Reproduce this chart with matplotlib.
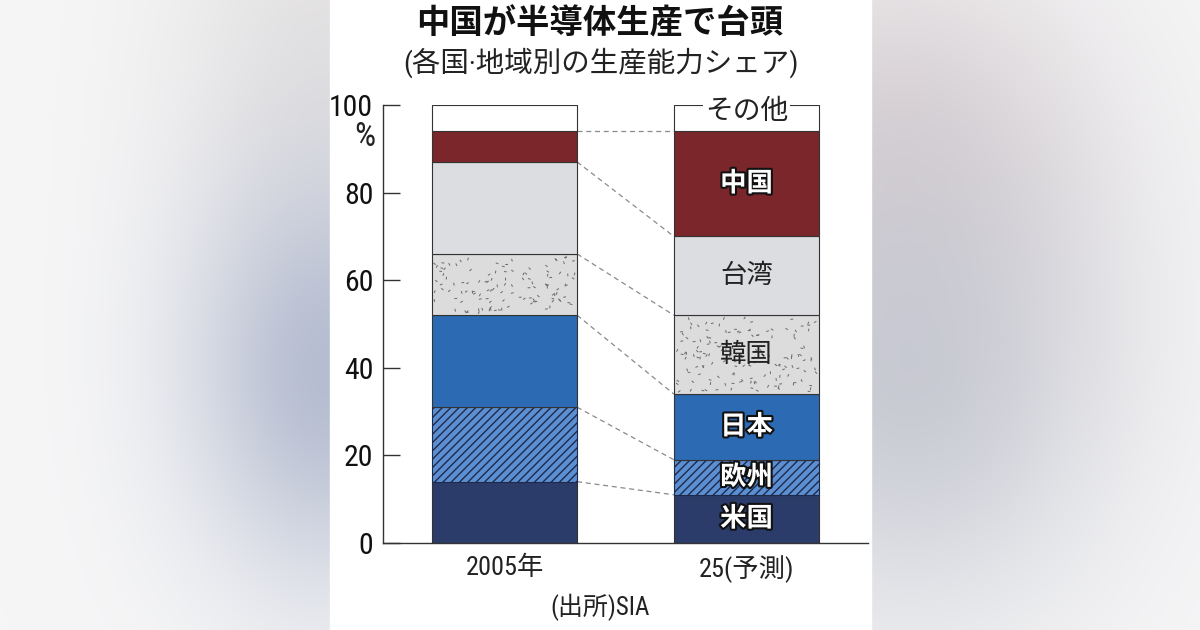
import numpy as np
import matplotlib
matplotlib.use('Agg')
import matplotlib.pyplot as plt
from matplotlib.patches import Rectangle
from matplotlib.collections import LineCollection
import matplotlib.patheffects as pe

plt.rcParams['font.family'] = ['Roboto Condensed', 'Liberation Sans Narrow', 'Noto Sans CJK JP', 'DejaVu Sans']
plt.rcParams['hatch.linewidth'] = 1.0

# data (share of production capacity, %)
years = ['2005年', '25(予測)']
regions = ['米国', '欧州', '日本', '韓国', '台湾', '中国', 'その他']
share_2005 = [14, 17, 21, 14, 21, 7, 6]
share_2025 = [11, 8, 15, 18, 18, 24, 6]
yticks = [0, 20, 40, 60, 80, 100]

colors = ['#2b3c6a', '#5b8fd2', '#2c6ab4', '#dcdcdc', '#dcdde0', '#7b262b', '#ffffff']
hatches = [None, '////', None, None, None, None, None]
# label style in the 2025 bar: True = bold white with outline
label_bold = [True, True, True, False, False, True, False]

W, H = 1200, 630
fig = plt.figure(figsize=(12, 6.3), dpi=100)

# blurred photo-ish background with white panel in the middle
yy, xx = np.mgrid[0:H, 0:W]
bg = np.ones((H, W, 3)) * np.array([0.965, 0.965, 0.968])
def blob(img, cx, cy, sx, sy, col, k=1.0):
    g = (k * np.exp(-((xx - cx) / sx) ** 2 / 2 - ((yy - cy) / sy) ** 2 / 2))[..., None]
    return img * (1 - g) + np.array(col) * g
bg = blob(bg, 330, 60, 110, 160, (0.88, 0.87, 0.87), 0.8)
bg = blob(bg, 330, 370, 100, 150, (0.70, 0.73, 0.81), 0.95)
bg = blob(bg, 900, 170, 140, 150, (0.84, 0.80, 0.81), 0.85)
bg = blob(bg, 910, 370, 140, 170, (0.76, 0.77, 0.81), 0.85)
bgax = fig.add_axes([0, 0, 1, 1])
bgax.imshow(bg, extent=[0, W, H, 0], aspect='auto')
bgax.add_patch(Rectangle((330, 0), 541, H, color='white'))
bgax.set_xlim(0, W)
bgax.set_ylim(H, 0)
bgax.axis('off')

ax = fig.add_axes([383 / W, 1 - 543 / H, 485 / W, 438 / H])
ax.set_facecolor('none')
x = np.arange(len(years))
width = 0.6

for i, share in enumerate([share_2005, share_2025]):
    bottom = 0
    for j, v in enumerate(share):
        ec = '#1d2a4c' if hatches[j] else '#333333'
        ax.bar(x[i], v, width, bottom=bottom, color=colors[j], hatch=hatches[j],
               edgecolor=ec, linewidth=0.8, zorder=2)
        bottom += v

# speckle texture for Korea
rng = np.random.default_rng(5)
segs = []
for i, share in enumerate([share_2005, share_2025]):
    lo = sum(share[:3])
    hi = lo + share[3]
    n = int(width * 242 * (hi - lo) * 4.38 / 75)
    px = rng.uniform(x[i] - width / 2 + 0.01, x[i] + width / 2 - 0.01, n)
    py = rng.uniform(lo + 0.6, hi - 0.6, n)
    ang = rng.uniform(0, np.pi, n)
    dx = 1.4 * np.cos(ang) / 242
    dy = 1.4 * np.sin(ang) / 4.38
    for a, b, c, d in zip(px, py, dx, dy):
        segs.append([(a - c, b - d), (a + c, b + d)])
ax.add_collection(LineCollection(segs, colors='#6a6a6a', linewidths=0.7, zorder=3))

# dashed connectors between the bars
c05 = np.cumsum(share_2005)[:-1]
c25 = np.cumsum(share_2025)[:-1]
for a, b in zip(c05, c25):
    ax.plot([x[0] + width / 2, x[1] - width / 2], [a, b], ls=(0, (4, 3)),
            color='#8a8a8a', lw=0.9, zorder=1)

# labels inside 2025 bar
bottom = 0
for j, v in enumerate(share_2025):
    mid = bottom + v / 2
    bottom += v
    if regions[j] == 'その他':
        ax.text(x[1], 98.6, regions[j], ha='center', va='center', fontsize=20,
                color='#222222', zorder=5,
                bbox=dict(facecolor='white', edgecolor='none', pad=1))
    elif label_bold[j]:
        ax.text(x[1], mid, regions[j], ha='center', va='center', fontsize=19,
                fontweight='bold', color='white', zorder=5,
                path_effects=[pe.withStroke(linewidth=3, foreground='#111111')])
    else:
        ax.text(x[1], mid, regions[j], ha='center', va='center', fontsize=19,
                color='#222222', zorder=5)

ax.set_xlim(-0.502, 1.502)
ax.set_ylim(0, 100)
ax.set_yticks(yticks)
ax.set_yticklabels([str(t) for t in yticks])
ax.set_xticks(x)
ax.set_xticklabels(years)
ax.tick_params(axis='y', direction='in', length=12, width=1, color='#333333',
               labelsize=21.5, pad=7, labelcolor='#111111')
ax.tick_params(axis='x', length=0, labelsize=19, pad=9, labelcolor='#222222')
for s in ['top', 'right']:
    ax.spines[s].set_visible(False)
for s in ['left', 'bottom']:
    ax.spines[s].set_color('#333333')
    ax.spines[s].set_linewidth(1)
ax.annotate('%', xy=(0, 92.6), xycoords=('axes fraction', 'data'), xytext=(-13, 0),
            textcoords='offset points', ha='center', va='center', fontsize=24,
            color='#222222', annotation_clip=False)

fig.text(600 / W, 1 - 24 / H, '中国が半導体生産で台頭', ha='center', va='center',
         fontsize=24, fontweight='bold', color='#111111')
fig.text(601 / W, 1 - 63 / H, '(各国·地域別の生産能力シェア)', ha='center', va='center',
         fontsize=20.5, color='#222222')
fig.text(600 / W, 1 - 607 / H, '(出所)SIA', ha='center', va='center',
         fontsize=18, color='#222222')

fig.savefig('out.png', dpi=100)
